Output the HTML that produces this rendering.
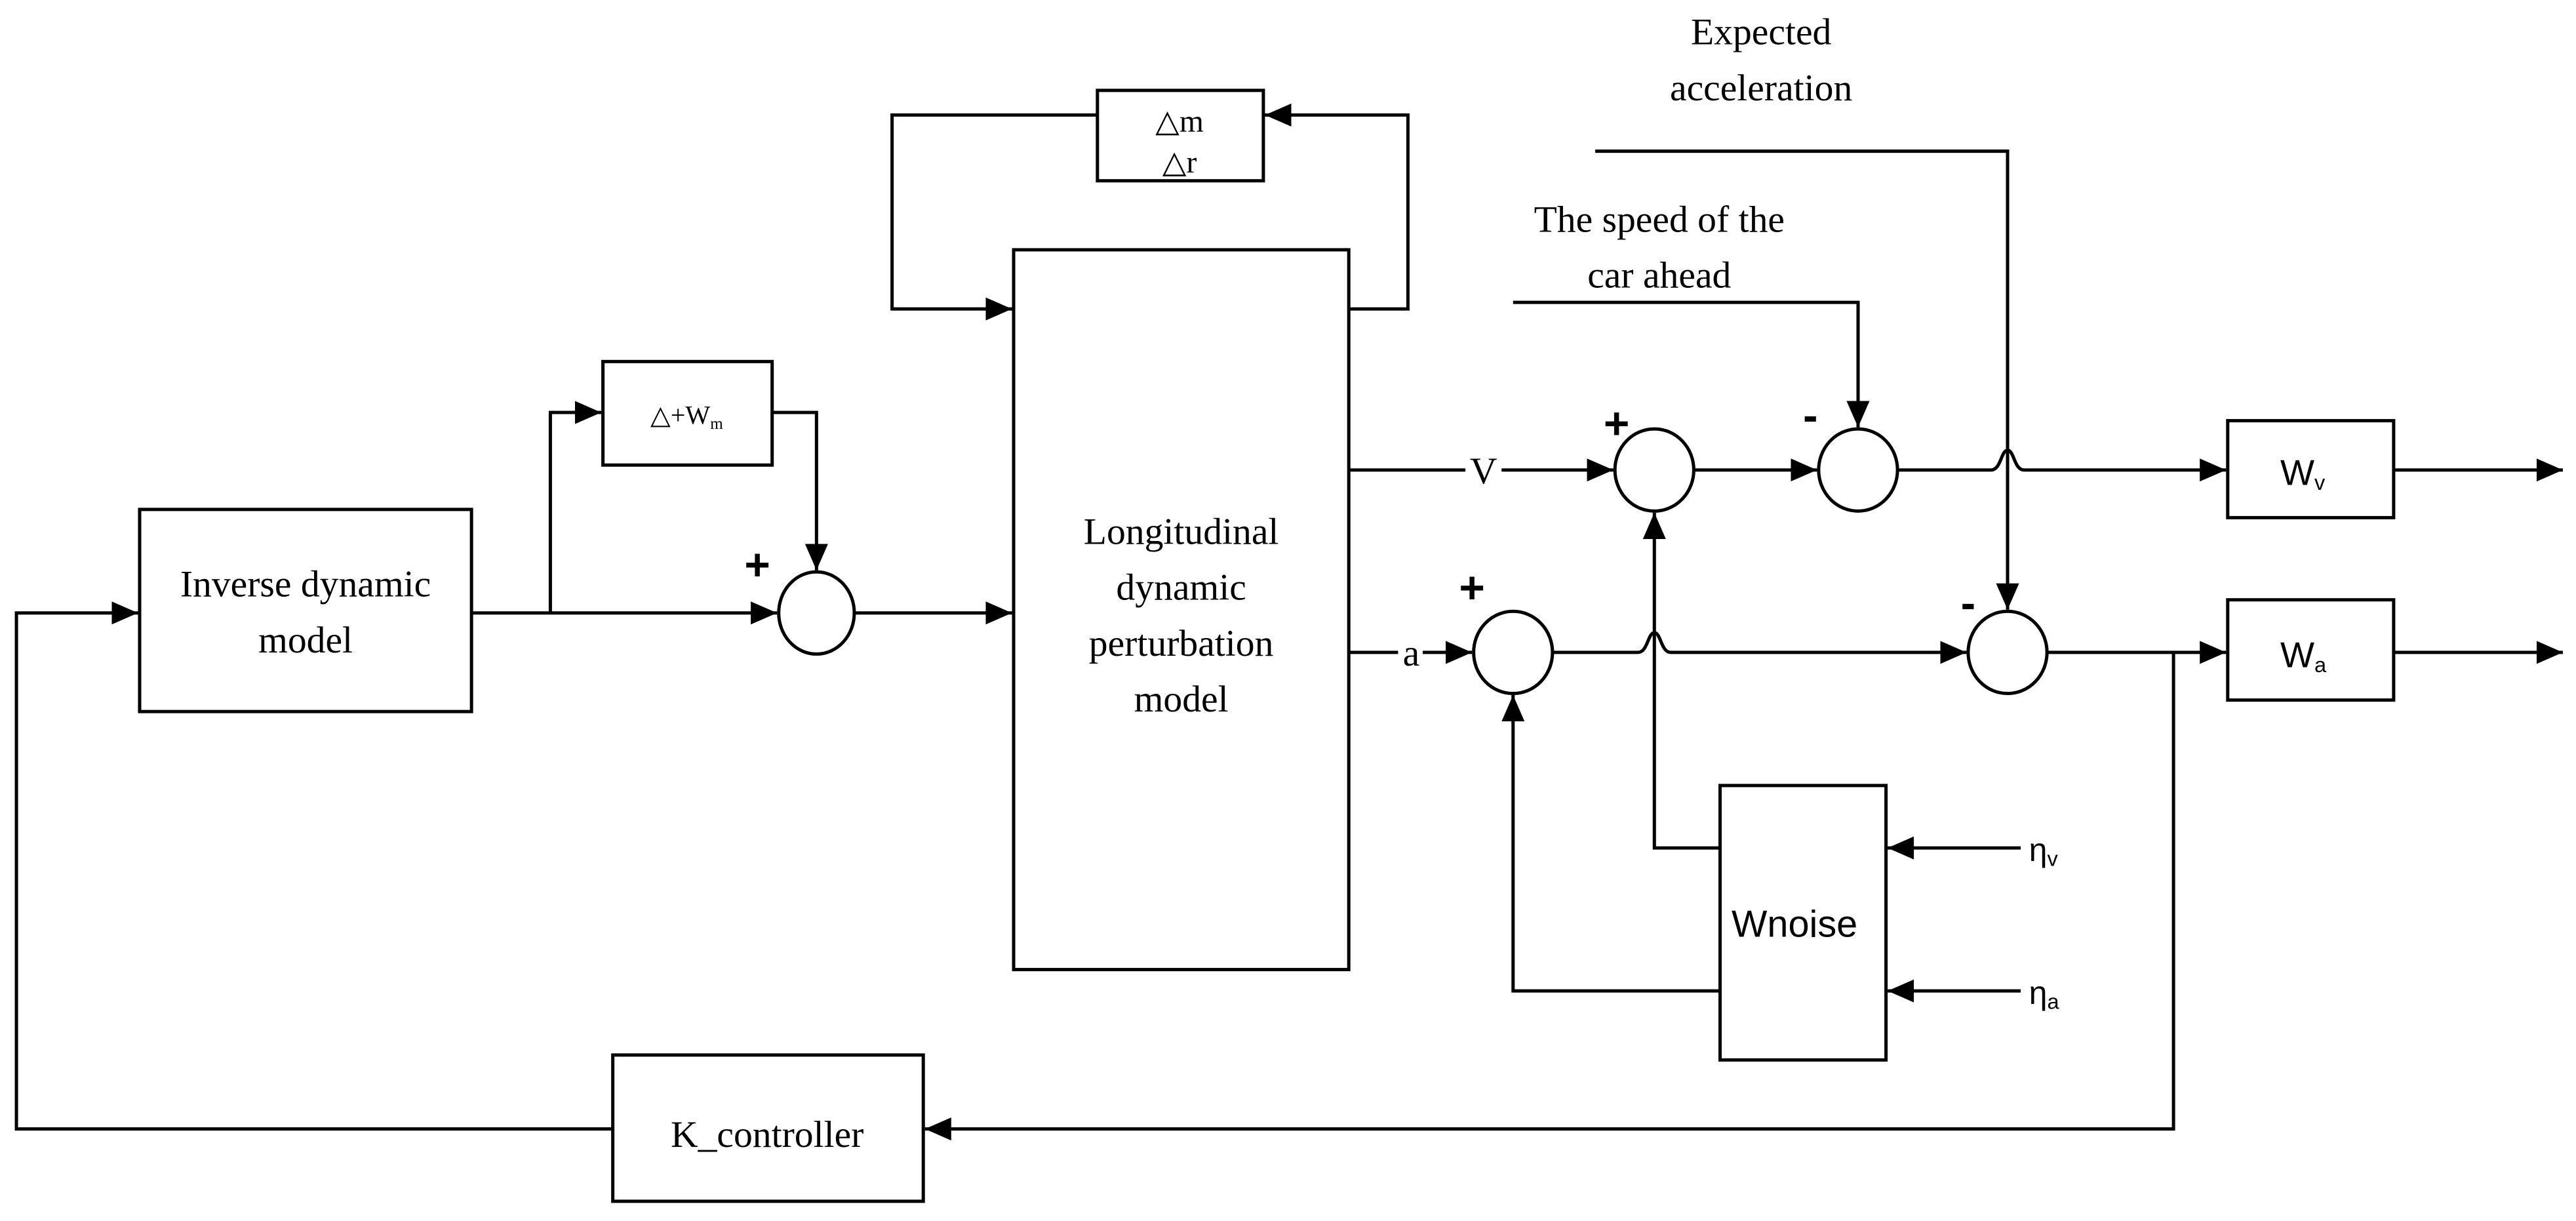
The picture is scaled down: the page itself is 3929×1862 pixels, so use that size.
<!DOCTYPE html>
<html><head><meta charset="utf-8"><style>
html,body{margin:0;padding:0;background:#fff;}
svg{display:block;}
.s{font-family:"Liberation Serif",serif;font-size:23px;}
.a{font-family:"Liberation Sans",sans-serif;}
</style></head><body>
<svg width="3929" height="1862" viewBox="0 0 1568 743" preserveAspectRatio="none" xmlns="http://www.w3.org/2000/svg">
<defs>
<marker id="arb" markerWidth="16" markerHeight="14" refX="16" refY="7" orient="auto" markerUnits="userSpaceOnUse">
<path d="M0,0 L16,7 L0,14 Z" fill="#000"/></marker>
</defs>
<g fill="none" stroke="#000" stroke-width="2">
<rect x="85" y="310" width="202" height="123"/>
<rect x="367" y="220" width="103" height="63"/>
<rect x="668" y="55" width="101" height="55"/>
<rect x="617" y="152" width="204" height="438"/>
<rect x="373" y="642" width="189" height="89"/>
<rect x="1356" y="256" width="101" height="59"/>
<rect x="1356" y="365" width="101" height="61"/>
<rect x="1047" y="478" width="101" height="167"/>
<ellipse cx="497" cy="373" rx="23" ry="25"/>
<ellipse cx="1007" cy="286" rx="24" ry="25"/>
<ellipse cx="1131" cy="286" rx="24" ry="25"/>
<ellipse cx="921" cy="397" rx="24" ry="25"/>
<ellipse cx="1222" cy="397" rx="24" ry="25"/>
<path d="M373,687 H10 V373 H84" marker-end="url(#arb)"/>
<path d="M287,373 H473" marker-end="url(#arb)"/>
<path d="M335,373 V251 H366" marker-end="url(#arb)"/>
<path d="M470,251 H497 V347" marker-end="url(#arb)"/>
<path d="M520,373 H616" marker-end="url(#arb)"/>
<path d="M668,70 H543 V188 H616" marker-end="url(#arb)"/>
<path d="M821,188 H857 V70 H770" marker-end="url(#arb)"/>
<path d="M821,286 H892 M914,286 H982" marker-end="url(#arb)"/>
<path d="M1031,286 H1106" marker-end="url(#arb)"/>
<path d="M921,184 H1131 V260" marker-end="url(#arb)"/>
<path d="M1155,286 H1212 C1218,286 1218,274 1222,274 C1226,274 1226,286 1232,286 H1355" marker-end="url(#arb)"/>
<path d="M1457,286 H1560" marker-end="url(#arb)"/>
<path d="M821,397 H851 M866,397 H896" marker-end="url(#arb)"/>
<path d="M945,397 H997 C1003,397 1003,385 1007,385 C1011,385 1011,397 1017,397 H1197" marker-end="url(#arb)"/>
<path d="M971,92 H1222 V371" marker-end="url(#arb)"/>
<path d="M1246,397 H1355" marker-end="url(#arb)"/>
<path d="M1457,397 H1560" marker-end="url(#arb)"/>
<path d="M1323,397 V687 H563" marker-end="url(#arb)"/>
<path d="M1047,516 H1007 V312" marker-end="url(#arb)"/>
<path d="M1047,603 H921 V423" marker-end="url(#arb)"/>
<path d="M1230,516 H1149" marker-end="url(#arb)"/>
<path d="M1230,603 H1149" marker-end="url(#arb)"/>
</g>
<g class="s" text-anchor="middle" fill="#000">
<text x="186" y="363">Inverse dynamic</text>
<text x="186" y="397">model</text>
<text x="719" y="331">Longitudinal</text>
<text x="719" y="365">dynamic</text>
<text x="719" y="399">perturbation</text>
<text x="719" y="433">model</text>
<text x="467" y="698">K_controller</text>
<text x="718" y="80" font-size="19">△m</text>
<text x="718" y="105" font-size="19">△r</text>
<text x="418" y="258" font-size="16">△+W<tspan font-size="10" dy="3">m</tspan></text>
<text x="1072" y="27">Expected</text>
<text x="1072" y="61">acceleration</text>
<text x="1010" y="141">The speed of the</text>
<text x="1010" y="175">car ahead</text>
<text x="903" y="294">V</text>
<text x="859" y="405">a</text>
</g>
<g class="a" fill="#000" font-size="22">
<text x="1388" y="295">W<tspan font-size="13" dy="3">v</tspan></text>
<text x="1388" y="406">W<tspan font-size="13" dy="3">a</tspan></text>
<text x="1054" y="570" font-size="23">Wnoise</text>
<text x="1235" y="524" font-size="20">η<tspan font-size="13" dy="3">v</tspan></text>
<text x="1235" y="611" font-size="20">η<tspan font-size="13" dy="3">a</tspan></text>
<text x="461" y="353" font-size="27" font-weight="bold" text-anchor="middle">+</text>
<text x="984" y="267" font-size="27" font-weight="bold" text-anchor="middle">+</text>
<text x="896" y="367" font-size="27" font-weight="bold" text-anchor="middle">+</text>
<text x="1102" y="262" font-size="27" font-weight="bold" text-anchor="middle">-</text>
<text x="1198" y="376" font-size="27" font-weight="bold" text-anchor="middle">-</text>
</g>
</svg>
</body></html>
